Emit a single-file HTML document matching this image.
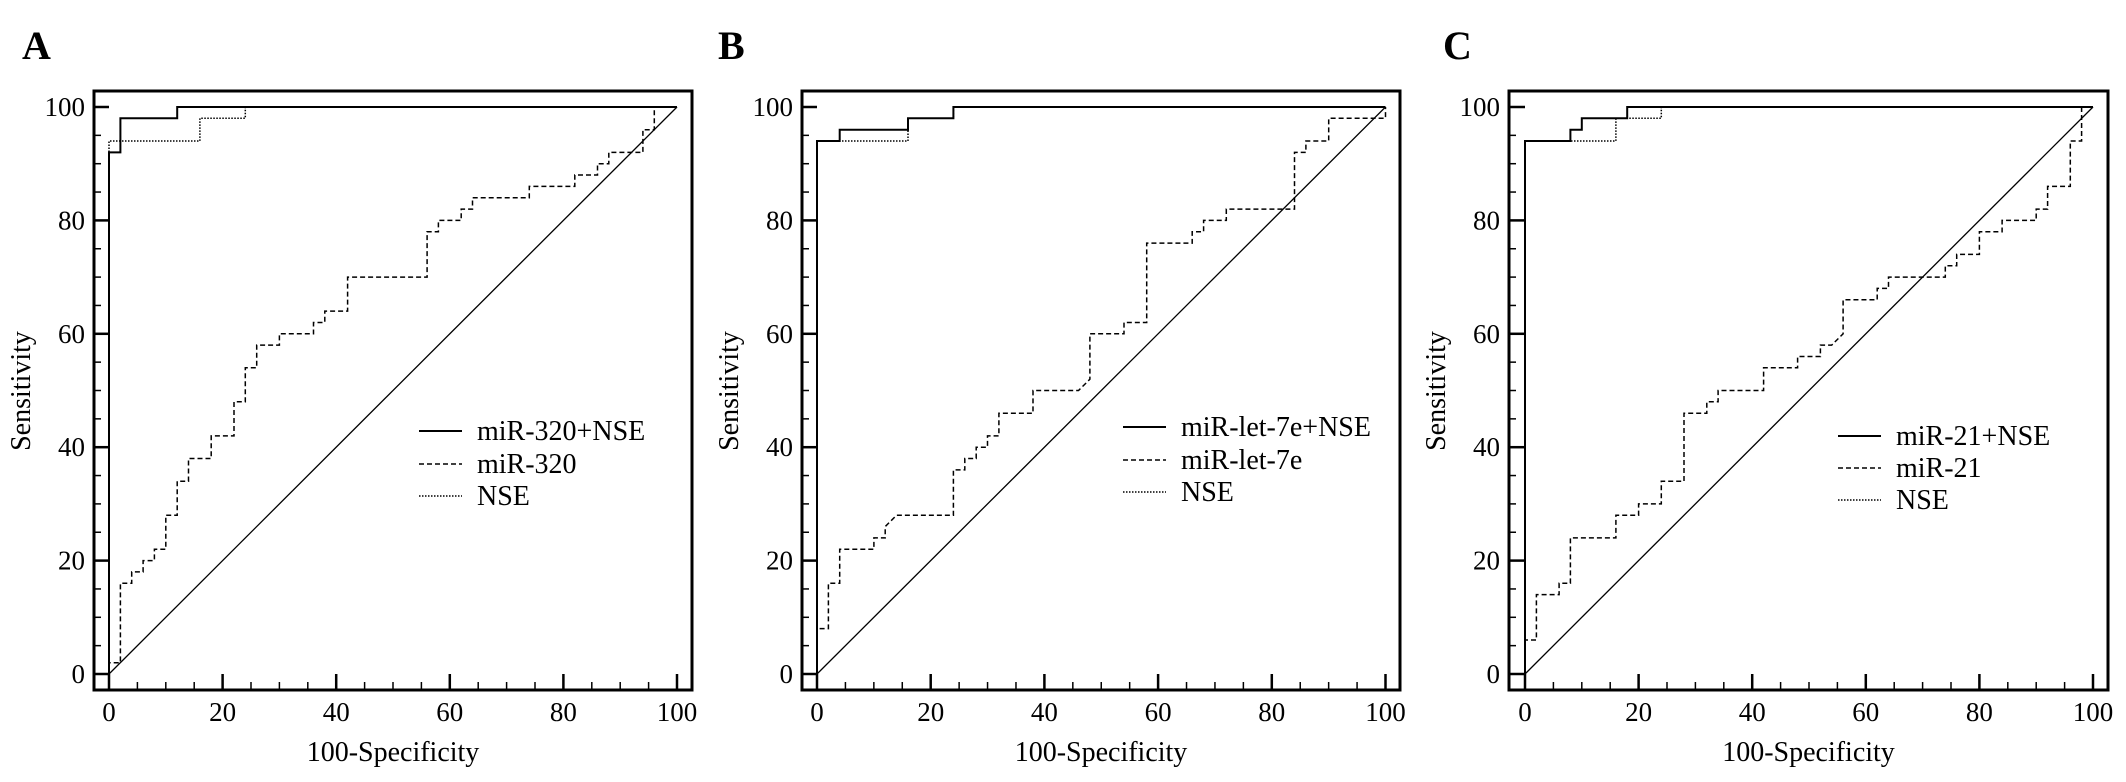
<!DOCTYPE html>
<html><head><meta charset="utf-8">
<style>
html,body{margin:0;padding:0;background:#fff;}
svg{display:block;font-family:"Liberation Serif",serif;}
</style></head>
<body>
<svg id="fig" width="2126" height="782" viewBox="0 0 2126 782" xmlns="http://www.w3.org/2000/svg"></svg>
<script>
// ---- data ----
const tickValues = [0,20,40,60,80,100];
const panelLetters = ["A","B","C"];
const legendA = ["miR-320+NSE","miR-320","NSE"];
const legendB = ["miR-let-7e+NSE","miR-let-7e","NSE"];
const legendC = ["miR-21+NSE","miR-21","NSE"];
// series as [x,y] pairs (100-specificity, sensitivity)
const aCombX = [0,0,2,2,12,12,100];
const aCombY = [0,92,92,98,98,100,100];
const aNseX = [0,0,16,16,24,24,100];
const aNseY = [0,94,94,98,98,100,100];
const aMirX = [0,0,2,2,4,4,6,6,8,8,10,10,12,12,14,14,18,18,22,22,24,24,26,26,30,30,36,36,38,38,42,42,56,56,58,58,62,62,64,64,74,74,82,82,86,86,88,88,94,94,96,96,100];
const aMirY = [0,2,2,16,16,18,18,20,20,22,22,28,28,34,34,38,38,42,42,48,48,54,54,58,58,60,60,62,62,64,64,70,70,78,78,80,80,82,82,84,84,86,86,88,88,90,90,92,92,96,96,100,100];
const bCombX = [0,0,4,4,16,16,24,24,100];
const bCombY = [0,94,94,96,96,98,98,100,100];
const bNseX = [0,0,16,16,24,24,100];
const bNseY = [0,94,94,98,98,100,100];
const bMirX = [0,0,2,2,4,4,10,10,12,12,13,14,24,24,26,26,28,28,30,30,32,32,38,38,46,48,48,54,54,58,58,66,66,68,68,72,72,84,84,86,86,90,90,100,100];
const bMirY = [0,8,8,16,16,22,22,24,24,26,27,28,28,36,36,38,38,40,40,42,42,46,46,50,50,52,60,60,62,62,76,76,78,78,80,80,82,82,92,92,94,94,98,98,100];
const cCombX = [0,0,8,8,10,10,18,18,100];
const cCombY = [0,94,94,96,96,98,98,100,100];
const cNseX = [0,0,16,16,24,24,100];
const cNseY = [0,94,94,98,98,100,100];
const cMirX = [0,0,2,2,6,6,8,8,16,16,20,20,24,24,28,28,32,32,34,34,42,42,48,48,52,52,54,56,56,62,62,64,64,74,74,76,76,80,80,84,84,90,90,92,92,96,96,98,98,100];
const cMirY = [0,6,6,14,14,16,16,24,24,28,28,30,30,34,34,46,46,48,48,50,50,54,54,56,56,58,58,60,66,66,68,68,70,70,72,72,74,74,78,78,80,80,82,82,86,86,94,94,100,100];
const diagX = [0,100];
const diagY = [0,100];

const NS="http://www.w3.org/2000/svg";
const svg=document.getElementById('fig');
function mk(tag,attrs,parent){const e=document.createElementNS(NS,tag);for(const k in attrs)e.setAttribute(k,attrs[k]);(parent||svg).appendChild(e);return e;}

const panels=[
 {name:'a',letter:panelLetters[0],fl:94,fr:692,x0:109,x100:677,lx:419,ly:[431,464,496],legend:legendA,
  series:[[aCombX,aCombY],[aMirX,aMirY],[aNseX,aNseY]],letterX:22},
 {name:'b',letter:panelLetters[1],fl:802,fr:1400,x0:817,x100:1385.5,lx:1123,ly:[427,460,492],legend:legendB,
  series:[[bCombX,bCombY],[bMirX,bMirY],[bNseX,bNseY]],letterX:718},
 {name:'c',letter:panelLetters[2],fl:1509,fr:2108,x0:1525,x100:2093,lx:1838,ly:[436,468,500],legend:legendC,
  series:[[cCombX,cCombY],[cMirX,cMirY],[cNseX,cNseY]],letterX:1443}
];
const FT=91, FB=690, Y0=674, Y100=107;
const styles=[{w:2,d:null},{w:1.5,d:'5,3'},{w:1.5,d:'1.5,1.5'}];

panels.forEach(p=>{
  const g=mk('g',{});
  
  
  const sx=v=>p.x0+(p.x100-p.x0)*v/100;
  const sy=v=>Y0+(Y100-Y0)*v/100;
  const lt=mk('text',{x:p.letterX,y:59,'font-size':40,'font-weight':'bold'},g);
  lt.textContent=p.letter;
  
  
  for(let v=0;v<=100;v+=5){
    const major=v%20===0;
    const tx=mk('line',{x1:sx(v),x2:sx(v),y1:FB,y2:major?Y0:FB-8,stroke:'#000','stroke-width':major?2.5:1.5},g);
    
    
    const ty=mk('line',{x1:p.fl,x2:major?p.x0:p.fl+7,y1:sy(v),y2:sy(v),stroke:'#000','stroke-width':major?2.5:1.5},g);
    
    
  }
  tickValues.forEach(v=>{
    const t=mk('text',{x:sx(v),y:721,'font-size':27,'text-anchor':'middle'},g);
    t.textContent=v;
    
    
    const t2=mk('text',{x:p.fl-9,y:sy(v)+9,'font-size':27,'text-anchor':'end'},g);
    t2.textContent=v;
    
    
  });
  const xt=mk('text',{x:(p.fl+p.fr)/2,y:761,'font-size':28,'text-anchor':'middle'},g);
  xt.textContent='100-Specificity';
  
  
  const yx=p.fl-64;
  const yt=mk('text',{x:yx,y:391,'font-size':28,'text-anchor':'middle',transform:`rotate(-90 ${yx} 391)`},g);
  yt.textContent='Sensitivity';
  
  
  const dg=mk('line',{x1:sx(diagX[0]),y1:sy(diagY[0]),x2:sx(diagX[1]),y2:sy(diagY[1]),stroke:'#000','stroke-width':1.3},g);
  
  
  p.series.forEach((s,i)=>{
    const pts=s[0].map((x,k)=>sx(x).toFixed(1)+','+sy(s[1][k]).toFixed(1)).join(' ');
    const a={points:pts,fill:'none',stroke:'#000','stroke-width':styles[i].w};
    if(styles[i].d)a['stroke-dasharray']=styles[i].d;
    const pl=mk('polyline',a,g);
    
    
  });
  const fr=mk('rect',{x:p.fl,y:FT,width:p.fr-p.fl,height:FB-FT,fill:'none',stroke:'#000','stroke-width':3},g);
  
  
  p.legend.forEach((lab,i)=>{
    const a={x1:p.lx,x2:p.lx+43,y1:p.ly[i],y2:p.ly[i],stroke:'#000','stroke-width':styles[i].w};
    if(styles[i].d)a['stroke-dasharray']=styles[i].d;
    const ll=mk('line',a,g);
    
    
    const lt2=mk('text',{x:p.lx+58,y:p.ly[i]+9,'font-size':28},g);
    lt2.textContent=lab;
    
    
  });
});
</script>
</body></html>
